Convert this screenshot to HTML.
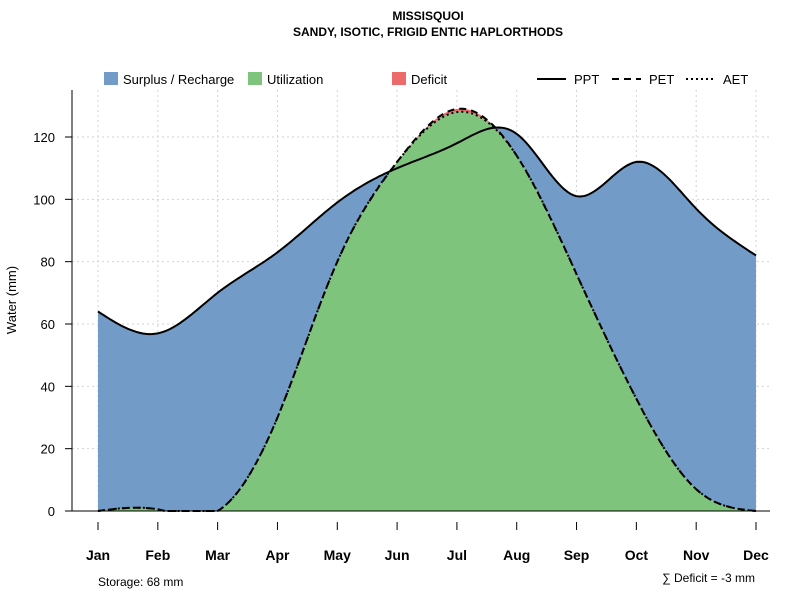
<!DOCTYPE html>
<html><head><meta charset="utf-8"><style>
body{margin:0;background:#fff;font-family:"Liberation Sans",sans-serif}
svg text{font-family:"Liberation Sans",sans-serif}
</style></head><body>
<svg id="c" width="800" height="600" xmlns="http://www.w3.org/2000/svg">
<text x="428" y="20" text-anchor="middle" font-size="12" font-weight="bold">MISSISQUOI</text>
<text x="428" y="36" text-anchor="middle" font-size="12" font-weight="bold">SANDY, ISOTIC, FRIGID ENTIC HAPLORTHODS</text>
<g>
<rect x="104" y="72" width="14" height="13" fill="#729bc8"/>
<text x="123" y="84" font-size="13">Surplus / Recharge</text>
<rect x="248" y="72" width="14" height="13" fill="#7fc47c"/>
<text x="267" y="84" font-size="13">Utilization</text>
<rect x="392" y="72" width="14" height="13" fill="#ec6a6a"/>
<text x="411" y="84" font-size="13">Deficit</text>
<line x1="537" y1="79" x2="566" y2="79" stroke="#000" stroke-width="2"/>
<text x="574" y="84" font-size="13">PPT</text>
<line x1="612" y1="79" x2="641" y2="79" stroke="#000" stroke-width="2" stroke-dasharray="7,5"/>
<text x="649" y="84" font-size="13">PET</text>
<line x1="686" y1="79" x2="715" y2="79" stroke="#000" stroke-width="2" stroke-dasharray="2,3"/>
<text x="723" y="84" font-size="13">AET</text>
</g>
<g id="grid"></g><g id="areas"></g><g id="lines"></g><g id="axes"></g>
<text x="16" y="300" transform="rotate(-90 16 300)" text-anchor="middle" font-size="13">Water (mm)</text>
<text x="98" y="586" font-size="12">Storage: 68 mm</text>
<text x="755" y="582" text-anchor="end" font-size="12">∑ Deficit = -3 mm</text>
</svg>
<script>
const months=["Jan","Feb","Mar","Apr","May","Jun","Jul","Aug","Sep","Oct","Nov","Dec"];
const ppt=[64,57,70,83,99,110,118,121,101,112,97,82];
const pet=[0,0.5,0,30,80,112,129,114,76,36,7,0];
const aet=[0,0.5,0,30,80,112,128,114,76,36,7,0];
const yTicks=[0,20,40,60,80,100,120];
const NS="http://www.w3.org/2000/svg";
const X=i=>98+i*(756-98)/11, Y=v=>511-v*(374/120);
function mk(t,a,p){const e=document.createElementNS(NS,t);for(const k in a)e.setAttribute(k,a[k]);document.getElementById(p).appendChild(e);return e;}
function spline(y){const n=y.length,a=new Array(n).fill(0),b=new Array(n).fill(0),c=new Array(n).fill(0),d=new Array(n).fill(0),m=new Array(n).fill(0);
for(let i=1;i<n-1;i++){a[i]=1;b[i]=4;c[i]=1;d[i]=6*(y[i+1]-2*y[i]+y[i-1]);}
b[0]=1;b[n-1]=1;for(let i=1;i<n;i++){const w=a[i]/b[i-1];b[i]-=w*c[i-1];d[i]-=w*d[i-1];}
m[n-1]=d[n-1]/b[n-1];for(let i=n-2;i>=0;i--)m[i]=(d[i]-c[i]*m[i+1])/b[i];
const pts=[];for(let i=0;i<n-1;i++)for(let s=0;s<20;s++){const t=s/20;const v=(1-t)*y[i]+t*y[i+1]+((1-t)**3-(1-t))*m[i]/6+(t**3-t)*m[i+1]/6;pts.push([i+t,Math.max(0,v)]);}
pts.push([n-1,y[n-1]]);return pts;}
const P=spline(ppt),E=spline(pet),A=spline(aet);
const path=pts=>pts.map((p,i)=>(i?"L":"M")+X(p[0]).toFixed(1)+","+Y(p[1]).toFixed(1)).join("");
const area=pts=>path(pts)+"L"+X(11)+","+Y(0)+"L"+X(0)+","+Y(0)+"Z";
for(const v of yTicks){const l=mk("line",{x1:72,x2:770,y1:Y(v),y2:Y(v),stroke:"#d3d3d3","stroke-dasharray":"2,3"},"grid");

}
months.forEach((m,i)=>{const l=mk("line",{x1:X(i),x2:X(i),y1:90,y2:511,stroke:"#d3d3d3","stroke-dasharray":"2,3"},"grid");

});
let e=mk("path",{d:area(P),fill:"#729bc8"},"areas");


e=mk("path",{d:path(E)+path(A.slice().reverse()).replace("M","L")+"Z",fill:"#ec6a6a"},"areas");


e=mk("path",{d:area(A),fill:"#7fc47c"},"areas");


e=mk("path",{d:path(P),fill:"none",stroke:"#000","stroke-width":2},"lines");


e=mk("path",{d:path(E),fill:"none",stroke:"#000","stroke-width":2,"stroke-dasharray":"7,5"},"lines");


e=mk("path",{d:path(A),fill:"none",stroke:"#000","stroke-width":2,"stroke-dasharray":"2,3"},"lines");


e=mk("line",{x1:72,x2:72,y1:90,y2:511,stroke:"#000"},"axes");


e=mk("line",{x1:72,x2:770,y1:511,y2:511,stroke:"#000"},"axes");


for(const v of yTicks){e=mk("line",{x1:65,x2:72,y1:Y(v),y2:Y(v),stroke:"#000"},"axes");


const t=mk("text",{x:55,y:Y(v)+5,"text-anchor":"end","font-size":13},"axes");t.textContent=v;

}
months.forEach((m,i)=>{e=mk("line",{x1:X(i),x2:X(i),y1:522,y2:530,stroke:"#000"},"axes");


const t=mk("text",{x:X(i),y:560,"text-anchor":"middle","font-size":14,"font-weight":"bold"},"axes");t.textContent=m;

});
</script>
</body></html>
